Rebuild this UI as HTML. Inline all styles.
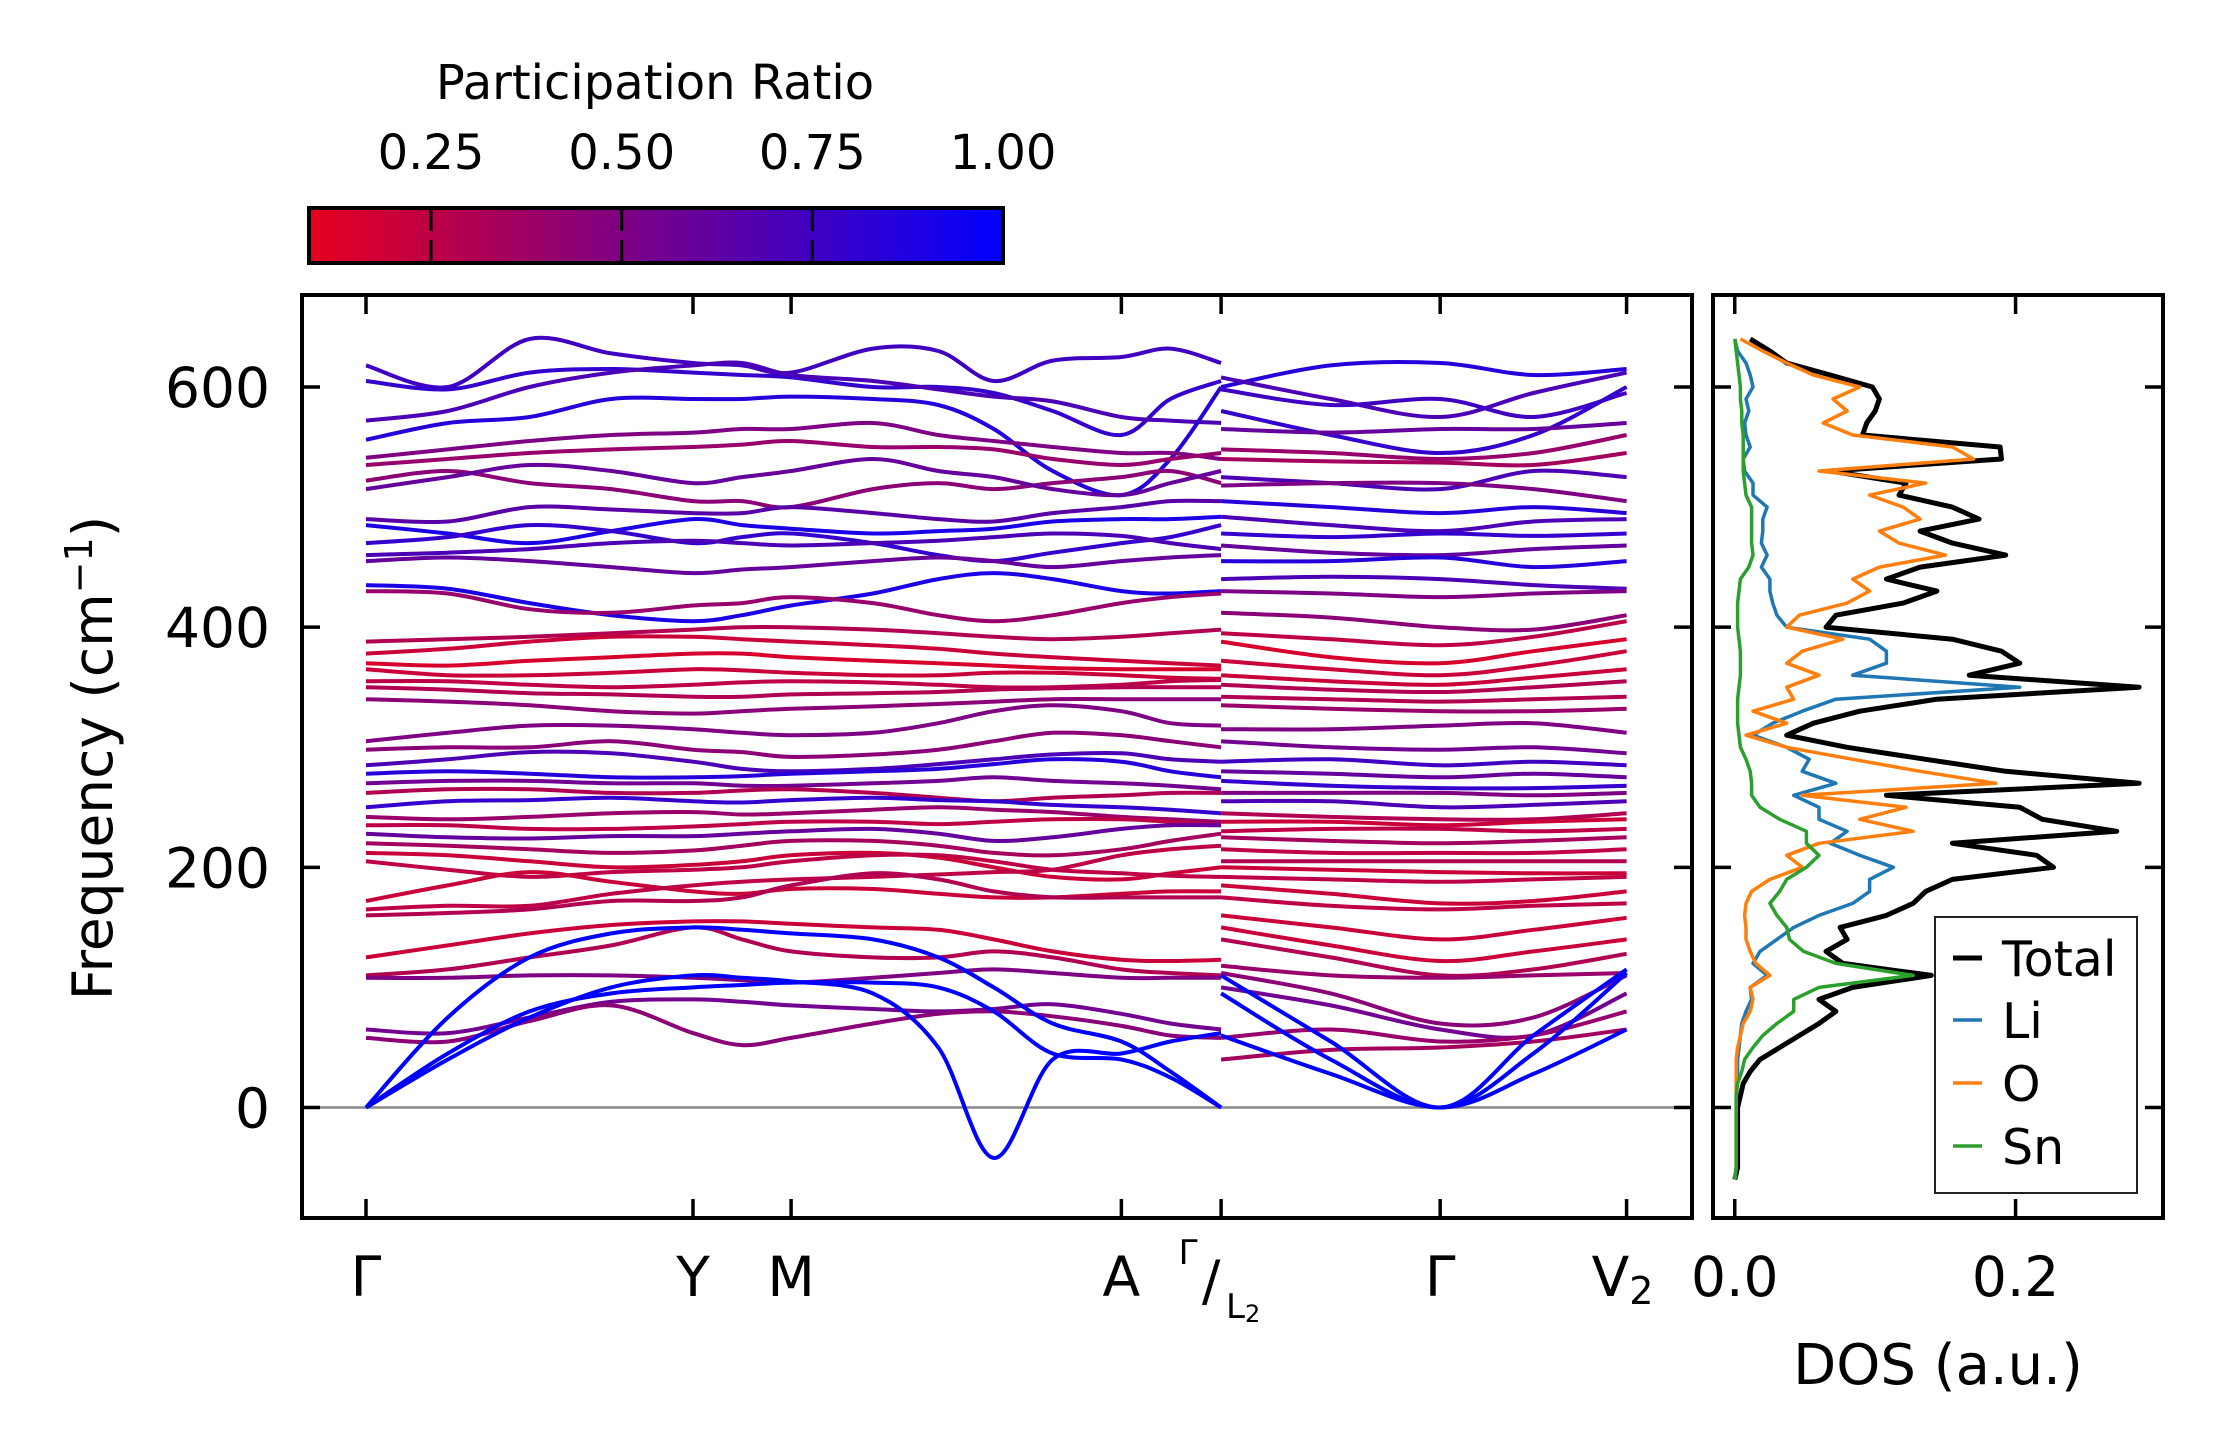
<!DOCTYPE html>
<html><head><meta charset="utf-8"><style>
html,body{margin:0;padding:0;background:#fff;}
svg{display:block;font-family:"DejaVu Sans","Liberation Sans",sans-serif;}
</style></head><body>
<svg id="chart" width="2222" height="1455" viewBox="0 0 2222 1455" xmlns="http://www.w3.org/2000/svg">
<defs><linearGradient id="cbgrad" x1="0" x2="1" y1="0" y2="0"><stop offset="0" stop-color="rgb(230,0,30)"/><stop offset="1" stop-color="rgb(0,0,255)"/></linearGradient></defs>
<g id="colorbar">
<text x="655" y="99" font-size="48" text-anchor="middle">Participation Ratio</text>
<rect x="309" y="208" width="694" height="55" fill="url(#cbgrad)" stroke="#000" stroke-width="4"/>
</g>
<g id="bands"></g>
<g id="dos"></g>
<g id="axes"></g>
</svg>
<script>
const kNodes = [0, 1.0, 1.3, 2.31, 2.615, 3.285, 3.855];
const kLabels = ["Γ", "Y", "M", "A", "Γ/L2", "Γ", "V2"];
const kLeft = [0,0.25,0.5,0.75,1.0,1.15,1.3,1.55,1.75,1.92,2.1,2.31,2.46,2.615];
const kRight = [2.615,2.95,3.285,3.57,3.855];
const bandsLeft = [
[618,600,640,628,620,618,612,632,630,605,622,625,632,620],
[605,598,612,615,612,610,608,600,600,595,580,560,590,605],
[572,580,600,612,618,620,610,605,598,592,588,575,572,570],
[556,570,575,590,590,590,592,590,585,565,530,510,540,600],
[541,548,555,560,562,565,565,570,560,555,550,545,545,540],
[535,540,545,548,550,552,555,550,550,548,540,535,540,545],
[522,530,520,515,505,505,500,515,520,515,520,525,530,520],
[515,525,535,530,520,525,530,540,530,525,515,510,520,530],
[490,488,500,498,495,495,500,495,490,488,495,500,505,505],
[485,478,470,480,490,485,482,478,480,482,488,490,490,492],
[470,475,485,480,470,475,478,470,460,455,462,470,475,485],
[460,462,465,470,472,470,468,470,472,475,478,476,470,465],
[455,458,455,450,445,448,450,455,458,455,450,455,458,460],
[435,432,420,410,405,410,418,428,440,445,440,430,428,430],
[430,428,415,412,418,420,425,420,410,405,410,420,425,428],
[388,390,392,395,398,400,400,398,395,392,390,392,395,398],
[378,382,388,392,392,390,388,385,382,378,375,372,370,368],
[370,368,372,375,378,378,375,372,370,368,366,365,365,365],
[365,360,360,362,365,364,362,360,360,362,362,360,358,357],
[355,355,352,350,352,354,355,354,352,350,350,352,355,356],
[350,348,345,344,342,342,344,345,346,348,349,350,350,350],
[340,338,335,330,328,330,332,334,336,338,340,340,340,340],
[305,312,318,318,315,312,310,312,320,330,335,330,320,318],
[298,300,300,305,298,296,292,294,298,305,312,310,305,300],
[285,290,296,295,288,282,280,282,286,290,294,295,290,288],
[278,280,278,275,275,276,278,280,282,286,290,288,280,275],
[270,272,272,270,270,268,268,270,272,275,272,270,268,265],
[262,265,265,262,262,264,265,262,258,255,258,260,262,262],
[250,255,256,258,255,254,256,258,256,255,252,250,248,245],
[242,240,242,245,246,244,245,248,250,248,246,242,240,238],
[235,235,232,232,234,236,238,238,236,238,240,240,238,235],
[228,225,224,226,226,228,230,232,228,222,225,232,235,235],
[220,218,215,212,214,218,222,222,218,212,210,215,222,228],
[212,210,205,200,202,205,210,212,208,200,192,190,195,200],
[205,198,192,196,198,200,205,210,210,205,198,195,193,192],
[172,185,196,188,180,178,182,182,178,175,175,178,180,180],
[165,168,168,178,185,188,190,192,194,196,198,210,215,218],
[160,162,165,172,172,175,185,195,190,180,175,175,175,175],
[125,135,145,152,155,155,153,150,148,140,130,123,122,123],
[110,115,125,135,150,140,130,125,125,130,125,115,112,110],
[108,108,110,110,108,106,104,108,112,115,112,108,108,108],
[65,62,75,88,90,88,85,82,80,82,86,78,70,65],
[58,55,72,85,62,52,58,70,78,80,76,68,60,58],
[0,45,80,95,100,102,104,104,100,80,45,40,25,0],
[0,75,125,145,150,148,145,140,125,100,70,55,30,0],
[0,40,75,100,110,108,105,95,50,-42,40,45,55,62]
];
const prLeft = [.75,.8,.7,.85,.5,.4,.45,.6,.65,.9,.8,.7,.6,.9,.4,.3,.2,.15,.2,.25,.3,.45,.5,.45,.7,.85,.55,.3,.8,.4,.25,.6,.35,.2,.25,.2,.25,.3,.2,.3,.5,.55,.45,1,1,1];
const bandsRight = [
[600,618,620,610,615],[608,590,575,595,612],[598,585,590,575,595],[580,560,545,560,600],
[565,562,565,565,570],[548,545,540,545,560],[540,538,537,535,545],[525,520,515,530,525],
[518,520,520,515,505],[505,500,495,500,495],[492,485,480,488,490],[478,475,478,476,478],
[468,462,460,465,468],[455,455,458,450,455],[440,442,440,435,432],[430,428,425,428,430],
[412,408,400,398,410],[395,390,385,392,405],[388,375,370,380,390],[372,365,360,368,380],
[360,355,352,358,365],[352,348,346,350,355],[342,340,338,340,342],[335,332,330,330,332],
[315,315,318,320,312],[305,300,298,300,295],[288,290,285,288,285],[280,278,275,278,275],
[272,268,266,266,268],[262,262,262,260,262],[255,255,250,252,255],[245,242,240,240,245],
[238,238,235,238,240],[230,232,232,230,232],[225,222,220,222,225],[215,212,212,212,215],
[205,205,205,205,205],[200,198,196,195,195],[192,190,188,190,192],[185,178,170,172,180],
[175,168,165,168,170],[160,150,140,148,158],[150,135,122,130,140],[140,125,110,115,128],
[118,110,108,110,112],[112,95,70,75,110],[100,85,65,60,95],[58,65,55,60,80],
[40,48,50,55,65],[110,55,0,60,115],[95,40,0,45,112],[60,28,0,28,65]
];
const prRight = [.85,.7,.75,.8,.6,.4,.35,.7,.5,.85,.7,.8,.6,.85,.7,.5,.45,.25,.15,.2,.2,.3,.3,.4,.5,.55,.75,.6,.8,.5,.7,.3,.2,.25,.35,.25,.3,.2,.25,.2,.25,.2,.2,.3,.4,.45,.55,.4,.35,1,1,1];
const yTicks = [0, 200, 400, 600];
const cbTicks = [0.25, 0.5, 0.75, 1.0];
const cbTickLabels = ["0.25", "0.50", "0.75", "1.00"];

const dosStart = -60, dosStep = 10;
const dosTotal = [0,.002,.002,.002,.002,.002,.002,.004,.006,.011,.018,.032,.046,.06,.072,.06,.084,.14,.077,.065,.08,.075,.108,.127,.136,.155,.227,.215,.155,.272,.219,.203,.108,.288,.193,.136,.08,.037,.056,.089,.144,.288,.167,.203,.19,.155,.065,.072,.12,.144,.108,.132,.193,.155,.132,.174,.155,.117,.122,.068,.19,.189,.091,.094,.1,.103,.098,.068,.037,.025,.011];
const dosLi = [0,.001,.001,.001,.001,.001,.001,.001,.001,.002,.002,.003,.004,.005,.008,.012,.011,.023,.013,.018,.03,.042,.06,.084,.096,.096,.113,.089,.068,.08,.06,.06,.042,.072,.048,.053,.037,.013,.027,.048,.072,.203,.084,.108,.108,.096,.037,.03,.027,.025,.025,.019,.023,.019,.02,.02,.023,.013,.013,.007,.006,.011,.008,.007,.01,.008,.013,.011,.008,.002,0];
const dosO = [0,.001,.001,.001,.001,.001,.001,.001,.001,.001,.001,.002,.004,.006,.011,.013,.011,.025,.015,.011,.008,.008,.007,.008,.012,.025,.048,.037,.06,.127,.089,.122,.048,.186,.132,.084,.037,.008,.037,.013,.042,.037,.06,.037,.048,.077,.037,.046,.08,.096,.084,.103,.15,.117,.103,.132,.12,.096,.136,.06,.17,.155,.084,.063,.08,.07,.089,.056,.037,.02,.004];
const dosSn = [0,.001,.001,.001,.001,.001,.001,.001,.002,.005,.007,.013,.02,.03,.042,.042,.06,.127,.072,.049,.039,.037,.03,.025,.032,.037,.051,.06,.051,.051,.032,.018,.012,.012,.011,.008,.004,.003,.002,.002,.002,.003,.004,.004,.004,.003,.002,.002,.002,.003,.004,.01,.013,.012,.012,.012,.012,.008,.007,.006,.006,.006,.006,.005,.005,.004,.004,.003,.002,.001,0];
const dosXTicks = [0, 0.2];
const dosXTickLabels = ["0.0", "0.2"];
const legendNames = ["Total", "Li", "O", "Sn"];

const SVGNS = "http://www.w3.org/2000/svg";
const ax = {l:302, r:1692, t:295, b:1218};
const dx = {l:1713, r:2163};
const yMin = -92, yMax = 676.6;
const kPx = 327, kX0 = 366;
const xK = k => kX0 + k*kPx;
const yF = f => ax.b - (f - yMin)/(yMax - yMin)*(ax.b - ax.t);
const dMin = -0.0155, dMax = 0.305;
const xD = v => dx.l + (v - dMin)/(dMax - dMin)*(dx.r - dx.l);
const cbL = 309, cbR = 1003, cbMin = 0.09, cbMax = 1.0;
const xCb = v => cbL + (v - cbMin)/(cbMax - cbMin)*(cbR - cbL);
function prColor(p){
  const t = Math.max(0, Math.min(1, (p - cbMin)/(cbMax - cbMin)));
  return "rgb(" + Math.round(230*(1-t)) + ",0," + Math.round(30 + 225*t) + ")";
}
function mk(tag, attrs, parent){
  const e = document.createElementNS(SVGNS, tag);
  for (const k in attrs) e.setAttribute(k, attrs[k]);
  parent.appendChild(e);
  return e;
}
function spline(pts){
  let d = "M" + pts[0][0].toFixed(1) + "," + pts[0][1].toFixed(1);
  for (let i = 0; i < pts.length-1; i++){
    const p0 = pts[Math.max(0,i-1)], p1 = pts[i], p2 = pts[i+1], p3 = pts[Math.min(pts.length-1,i+2)];
    const c1 = [p1[0]+(p2[0]-p0[0])/6, p1[1]+(p2[1]-p0[1])/6];
    const c2 = [p2[0]-(p3[0]-p1[0])/6, p2[1]-(p3[1]-p1[1])/6];
    d += " C" + c1[0].toFixed(1) + "," + c1[1].toFixed(1) + " " + c2[0].toFixed(1) + "," + c2[1].toFixed(1) + " " + p2[0].toFixed(1) + "," + p2[1].toFixed(1);
  }
  return d;
}
function polyline(pts){ return "M" + pts.map(p => p[0].toFixed(1) + "," + p[1].toFixed(1)).join(" L"); }

const gB = document.getElementById("bands");
const gD = document.getElementById("dos");
const gA = document.getElementById("axes");
const gC = document.getElementById("colorbar");

const zl = mk("line", {x1:ax.l, x2:ax.r, y1:yF(0), y2:yF(0), stroke:"#888", "stroke-width":2.5}, gB);



bandsLeft.forEach((b, i) => {
  const p = mk("path", {d: spline(b.map((f, j) => [xK(kLeft[j]), yF(f)])), fill:"none", stroke: prColor(prLeft[i]), "stroke-width":4}, gB);
  
  
});
bandsRight.forEach((b, i) => {
  const p = mk("path", {d: spline(b.map((f, j) => [xK(kRight[j]), yF(f)])), fill:"none", stroke: prColor(prRight[i]), "stroke-width":4}, gB);
  
  
});

const dosSeries = [[dosTotal, "#000", 5], [dosLi, "#1f77b4", 3.5], [dosO, "#ff7f0e", 3.5], [dosSn, "#2ca02c", 3.5]];
dosSeries.forEach((s, i) => {
  const p = mk("path", {d: polyline(s[0].map((v, j) => [xD(v), yF(dosStart + j*dosStep)])), fill:"none", stroke:s[1], "stroke-width":s[2], "stroke-linejoin":"round"}, gD);
  
  
});

const f1 = mk("rect", {x:ax.l, y:ax.t, width:ax.r-ax.l, height:ax.b-ax.t, fill:"none", stroke:"#000", "stroke-width":4}, gA);


const f2 = mk("rect", {x:dx.l, y:ax.t, width:dx.r-dx.l, height:ax.b-ax.t, fill:"none", stroke:"#000", "stroke-width":4}, gA);



yTicks.forEach(f => {
  const y = yF(f);
  [[ax.l, 1], [ax.r, -1], [dx.l, 1], [dx.r, -1]].forEach(([x0, s]) => {
    const t = mk("line", {x1:x0, x2:x0 + s*18, y1:y, y2:y, stroke:"#000", "stroke-width":3.5}, gA);
    
    
  });
  const lb = mk("text", {x:270, y:y+20, "font-size":55, "text-anchor":"end"}, gA);
  lb.textContent = String(f);
  
  
});

kNodes.forEach((k, i) => {
  const x = xK(k);
  [[ax.t, 1], [ax.b, -1]].forEach(([y0, s]) => {
    const t = mk("line", {x1:x, x2:x, y1:y0, y2:y0 + s*19, stroke:"#000", "stroke-width":3.5}, gA);
    
    
  });
  const lbl = kLabels[i];
  if (lbl === "Γ/L2") {
    const g = mk("text", {x:x-33, y:1264, "font-size":34, "text-anchor":"middle"}, gA);
    g.textContent = "Γ";
    
    
    const sl = mk("text", {x:x-10, y:1300, "font-size":55, "text-anchor":"middle"}, gA);
    sl.textContent = "/";
    
    
    const L = mk("text", {x:x+22, y:1318, "font-size":34, "text-anchor":"middle"}, gA);
    L.innerHTML = 'L<tspan font-size="24" dy="4">2</tspan>';
    
    
  } else if (lbl === "V2") {
    const t = mk("text", {x:x-4, y:1296, "font-size":55, "text-anchor":"middle"}, gA);
    t.innerHTML = 'V<tspan font-size="38" dy="8">2</tspan>';
    
    
  } else {
    const t = mk("text", {x:x, y:1296, "font-size":55, "text-anchor":"middle"}, gA);
    t.textContent = lbl;
    
    
  }
});

dosXTicks.forEach((v, i) => {
  const x = xD(v);
  [[ax.t, 1], [ax.b, -1]].forEach(([y0, s]) => {
    const t = mk("line", {x1:x, x2:x, y1:y0, y2:y0 + s*19, stroke:"#000", "stroke-width":3.5}, gA);
    
    
  });
  const t = mk("text", {x:x, y:1296, "font-size":55, "text-anchor":"middle"}, gA);
  t.textContent = dosXTickLabels[i];
  
  
});

const yt = mk("text", {x:0, y:0, "font-size":55, "text-anchor":"middle", transform:"translate(112,758) rotate(-90)"}, gA);
yt.innerHTML = 'Frequency (cm<tspan font-size="38" dy="-20">−1</tspan><tspan dy="20">)</tspan>';


const xt = mk("text", {x:1938, y:1384, "font-size":56, "text-anchor":"middle"}, gA);
xt.textContent = "DOS (a.u.)";



const lg = mk("g", {}, gA);


mk("rect", {x:1935, y:917, width:202, height:276, fill:"#fff", stroke:"#222", "stroke-width":2}, lg);
const legY = [958, 1020, 1083, 1146];
legendNames.forEach((n, i) => {
  const ln = mk("line", {x1:1953, x2:1982, y1:legY[i], y2:legY[i], stroke:dosSeries[i][1], "stroke-width":dosSeries[i][2]}, lg);
  
  
  const t = mk("text", {x:2002, y:legY[i]+18, "font-size":49}, lg);
  t.textContent = n;
  
  
});

cbTicks.forEach((v, i) => {
  const x = xCb(v);
  if (v < 1) {
    const a = mk("line", {x1:x, x2:x, y1:208, y2:231, stroke:"#000", "stroke-width":3}, gC);
    
    
    const b = mk("line", {x1:x, x2:x, y1:240, y2:263, stroke:"#000", "stroke-width":3}, gC);
    
    
  }
  const t = mk("text", {x:x, y:169, "font-size":48, "text-anchor":"middle"}, gC);
  t.textContent = cbTickLabels[i];
  
  
});
</script>
</body></html>
